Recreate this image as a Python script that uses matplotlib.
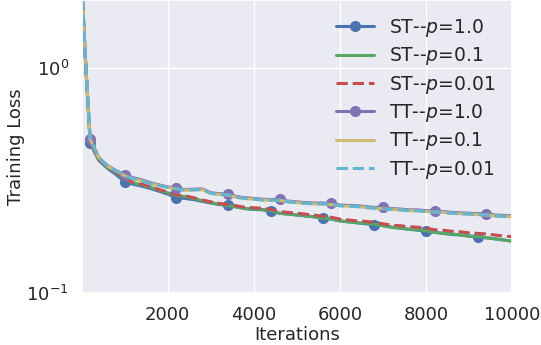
import matplotlib
matplotlib.use('Agg')
import matplotlib.pyplot as plt
import matplotlib.ticker as mticker
import seaborn as sns

sns.set_theme(style='darkgrid', palette='deep')
plt.rcParams['font.family'] = ['DejaVu Sans']

# iterations (first steps logged more often)
iters = [0, 100] + list(range(200, 10001, 200))

st_p1 = [2.40, 1.00, 0.464, 0.388, 0.358, 0.336, 0.312, 0.304, 0.298, 0.291,
         0.283, 0.275, 0.265, 0.263, 0.260, 0.255, 0.251, 0.247, 0.245, 0.241,
         0.237, 0.235, 0.234, 0.231, 0.226, 0.224, 0.222, 0.220, 0.218, 0.215,
         0.213, 0.209, 0.207, 0.205, 0.203, 0.201, 0.199, 0.196, 0.194, 0.192,
         0.190, 0.189, 0.186, 0.184, 0.182, 0.181, 0.179, 0.177, 0.176, 0.174,
         0.172, 0.170]
st_p01 = [2.40, 1.00, 0.465, 0.390, 0.362, 0.342, 0.320, 0.308, 0.302, 0.295,
          0.286, 0.279, 0.271, 0.268, 0.263, 0.257, 0.252, 0.248, 0.244, 0.241,
          0.237, 0.236, 0.235, 0.232, 0.226, 0.224, 0.222, 0.220, 0.218, 0.215,
          0.213, 0.209, 0.207, 0.205, 0.204, 0.202, 0.199, 0.196, 0.194, 0.192,
          0.191, 0.189, 0.186, 0.184, 0.183, 0.181, 0.179, 0.178, 0.176, 0.174,
          0.172, 0.170]
st_p001 = [2.40, 1.00, 0.466, 0.391, 0.364, 0.344, 0.321, 0.310, 0.304, 0.297,
           0.288, 0.281, 0.273, 0.270, 0.265, 0.259, 0.254, 0.250, 0.247, 0.244,
           0.240, 0.239, 0.238, 0.235, 0.230, 0.228, 0.226, 0.224, 0.222, 0.219,
           0.217, 0.213, 0.211, 0.209, 0.208, 0.206, 0.203, 0.200, 0.199, 0.197,
           0.196, 0.194, 0.191, 0.190, 0.188, 0.187, 0.185, 0.184, 0.183, 0.181,
           0.179, 0.178]
tt_p1 = [2.40, 1.00, 0.485, 0.400, 0.368, 0.350, 0.335, 0.325, 0.318, 0.309,
         0.302, 0.296, 0.292, 0.288, 0.289, 0.290, 0.279, 0.276, 0.275, 0.268,
         0.265, 0.263, 0.261, 0.260, 0.261, 0.256, 0.254, 0.252, 0.251, 0.251,
         0.250, 0.246, 0.245, 0.244, 0.242, 0.240, 0.240, 0.237, 0.236, 0.234,
         0.234, 0.232, 0.232, 0.230, 0.228, 0.227, 0.226, 0.225, 0.225, 0.222,
         0.221, 0.220]
tt_p01 = [2.40, 1.00, 0.480, 0.398, 0.366, 0.348, 0.332, 0.322, 0.315, 0.306,
          0.300, 0.294, 0.290, 0.286, 0.287, 0.288, 0.277, 0.274, 0.272, 0.266,
          0.263, 0.261, 0.259, 0.258, 0.258, 0.254, 0.252, 0.250, 0.249, 0.248,
          0.247, 0.244, 0.243, 0.242, 0.240, 0.238, 0.237, 0.235, 0.234, 0.232,
          0.232, 0.230, 0.229, 0.228, 0.226, 0.225, 0.224, 0.223, 0.222, 0.220,
          0.219, 0.218]
tt_p001 = [2.40, 1.00, 0.481, 0.398, 0.366, 0.348, 0.332, 0.322, 0.315, 0.306,
           0.300, 0.294, 0.290, 0.286, 0.287, 0.288, 0.277, 0.274, 0.273, 0.266,
           0.263, 0.261, 0.259, 0.258, 0.259, 0.254, 0.252, 0.250, 0.249, 0.249,
           0.248, 0.244, 0.243, 0.242, 0.240, 0.238, 0.237, 0.235, 0.234, 0.232,
           0.232, 0.230, 0.229, 0.228, 0.226, 0.225, 0.224, 0.223, 0.222, 0.220,
           0.219, 0.218]

labels = ['ST--$p$=1.0', 'ST--$p$=0.1', 'ST--$p$=0.01',
          'TT--$p$=1.0', 'TT--$p$=0.1', 'TT--$p$=0.01']

# marker positions (indices into iters)
st_marks = [2, 6, 12, 18, 23, 29, 35, 41, 47]
tt_marks = [2, 6, 12, 18, 24, 30, 36, 42, 48]

pal = sns.color_palette('deep')
fig = plt.figure(figsize=(5.41, 3.45), dpi=100)
ax = fig.add_axes([0.1516, 0.1507, 0.7948, 0.8493])

lw = 2.2
ax.plot(iters, st_p1, color=pal[0], lw=lw, marker='o', ms=7, markevery=st_marks, label=labels[0])
ax.plot(iters, st_p01, color=pal[2], lw=lw, label=labels[1])
ax.plot(iters, st_p001, color=pal[3], lw=lw, ls='--', label=labels[2])
ax.plot(iters, tt_p1, color=pal[4], lw=lw, marker='o', ms=7, markevery=tt_marks, label=labels[3])
ax.plot(iters, tt_p01, color=pal[8], lw=lw, label=labels[4])
ax.plot(iters, tt_p001, color=pal[9], lw=lw, ls='--', label=labels[5])

ax.set_yscale('log')
ax.set_ylim(0.1, 2.0)
ax.set_xlim(10, 10000)
ax.set_xticks([2000, 4000, 6000, 8000, 10000])
ax.yaxis.set_minor_formatter(mticker.NullFormatter())
ax.tick_params(labelsize=13)
ax.set_xlabel('Iterations', fontsize=13, labelpad=1)
ax.set_ylabel('Training Loss', fontsize=13, labelpad=1)
ax.legend(loc='upper right', fontsize=13.5, frameon=False, labelspacing=0.34)

fig.savefig('out.png', dpi=100)
